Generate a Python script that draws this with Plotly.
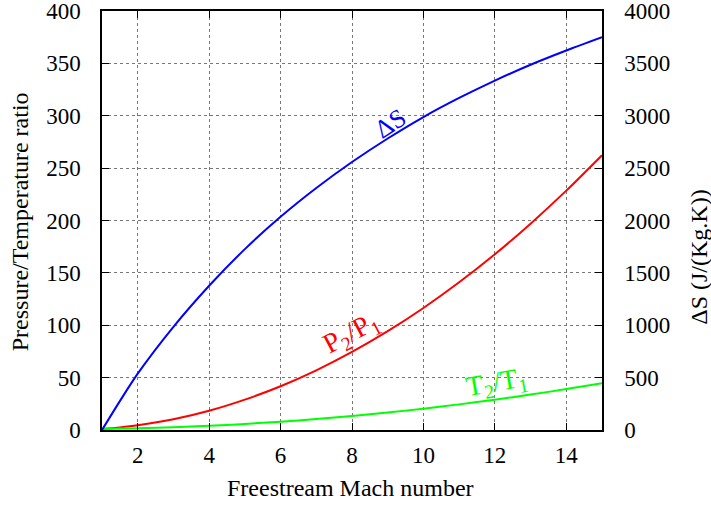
import plotly.graph_objects as go

# Freestream Mach number samples
mach = [1, 1.5, 2, 3, 4, 5, 6, 7, 8, 9, 10, 11, 12, 13, 14, 15]

# Static pressure ratio across the normal shock
p_ratio = [1, 2.46, 4.5, 10.3, 18.4, 29.0, 41.8, 57.0, 74.5, 94.3, 116.5,
           141.0, 167.8, 197.0, 228.5, 262.3]

# Static temperature ratio across the normal shock
t_ratio = [1, 1.32, 1.69, 2.68, 4.05, 5.80, 7.94, 10.47, 13.39, 16.69, 20.39,
           24.47, 28.94, 33.80, 39.05, 44.70]

# Entropy rise across the shock, J/(kg.K)
entropy = [0, 276, 538, 985, 1377, 1727, 2035, 2310, 2558, 2783, 2988,
           3170, 3336, 3487, 3623, 3750]

left_ticks = list(range(0, 401, 50))
right_ticks = list(range(0, 4001, 500))
x_ticks = [2, 4, 6, 8, 10, 12, 14]

FONT = "Liberation Serif"
FS = 24
TICK_FS = 23

fig = go.Figure()
fig.add_trace(go.Scatter(x=mach, y=entropy, mode="lines", yaxis="y2",
                         line=dict(color="#0000ff", width=2, shape="spline",
                                   smoothing=0.8)))
fig.add_trace(go.Scatter(x=mach, y=p_ratio, mode="lines",
                         line=dict(color="#ff0000", width=2, shape="spline",
                                   smoothing=0.8)))
fig.add_trace(go.Scatter(x=mach, y=t_ratio, mode="lines",
                         line=dict(color="#00ff00", width=2, shape="spline",
                                   smoothing=0.8)))

axis_common = dict(
    showline=True, linecolor="black", linewidth=1.5,
    ticks="inside", ticklen=7, tickcolor="black", tickwidth=1,
    tickfont=dict(family=FONT, size=TICK_FS, color="black"),
    zeroline=False, automargin=False, ticklabeloverflow="allow",
)

fig.update_layout(
    width=711, height=508,
    margin=dict(l=102, r=108.5, t=11, b=78.4),
    paper_bgcolor="white", plot_bgcolor="white",
    showlegend=False,
    font=dict(family=FONT, size=FS, color="black"),
    xaxis=dict(range=[1, 15], tickvals=x_ticks, mirror="ticks",
               showgrid=True, gridcolor="#777777", griddash="dot", gridwidth=1,
               ticklabelstandoff=4, **axis_common),
    yaxis=dict(range=[0, 400], tickvals=left_ticks, mirror=True,
               showgrid=True, gridcolor="#777777", griddash="dot", gridwidth=1,
               ticklabelstandoff=15, **axis_common),
    yaxis2=dict(range=[0, 4000], tickvals=right_ticks, overlaying="y",
                side="right", showgrid=False, ticklabelstandoff=16,
                **axis_common),
)

title_font = dict(family=FONT, size=FS, color="black")
annotations = [
    dict(text="Pressure/Temperature ratio", xref="paper", yref="paper",
         x=-0.1638, y=0.496, textangle=-90, showarrow=False,
         xanchor="center", yanchor="middle", font=title_font),
    dict(text="ΔS (J/(Kg.K))", xref="paper", yref="paper",
         x=1.1948, y=0.412, textangle=-90, showarrow=False,
         xanchor="center", yanchor="middle", font=title_font),
    dict(text="Freestream Mach number", xref="paper", yref="paper",
         x=0.4965, y=-0.1395, showarrow=False,
         xanchor="center", yanchor="middle", font=title_font),
    dict(text="ΔS", x=9.08, y=292.5, xref="x", yref="y", textangle=-33,
         showarrow=False, xanchor="center", yanchor="middle",
         font=dict(family=FONT, size=26, color="#0000ff")),
    dict(text="P<sub>2</sub>/P<sub>1</sub>", x=7.99, y=92.5, xref="x", yref="y",
         textangle=-28, showarrow=False, xanchor="center", yanchor="middle",
         font=dict(family=FONT, size=28, color="#ff0000")),
    dict(text="T<sub>2</sub>/T<sub>1</sub>", x=12.05, y=44.5, xref="x", yref="y",
         textangle=-10, showarrow=False, xanchor="center", yanchor="middle",
         font=dict(family=FONT, size=28, color="#00ff00")),
]
fig.update_layout(annotations=annotations)

fig.write_html("out.html")
